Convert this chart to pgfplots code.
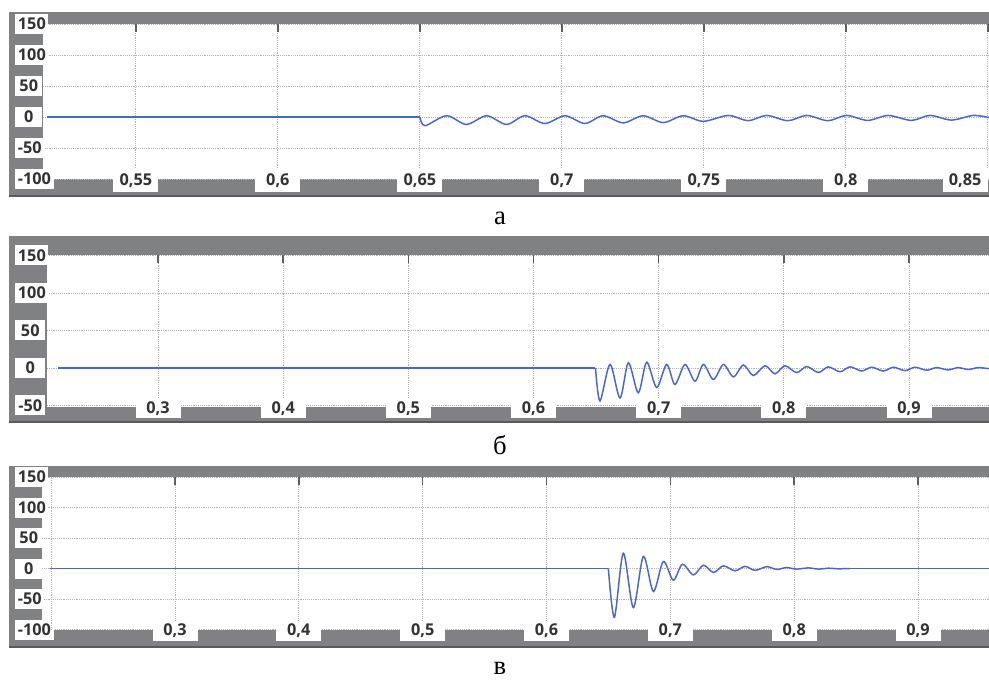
\documentclass[border=0pt]{standalone}
\usepackage{fontspec}
\usepackage{pgfplots}
\pgfplotsset{compat=1.18}
\newfontfamily\tickfont{Open Sans}
\newfontfamily\capfont{Liberation Serif}
\definecolor{framec}{RGB}{128,129,130}
\definecolor{framedark}{RGB}{88,90,92}
\definecolor{tickc}{RGB}{95,95,95}
\definecolor{gridc}{RGB}{180,180,180}
\definecolor{sig}{RGB}{72,102,205}
\definecolor{txt}{RGB}{50,50,50}
\pgfplotsset{
  panel/.style={
    scale only axis,
    anchor=south west,
    axis background/.style={fill=white},
    axis line style={draw=none},
    grid=major,
    major grid style={densely dotted, draw=gridc, line width=0.6pt},
    xtick pos=right,
    xticklabel pos=left,
    xtick align=inside,
    major tick length=6pt,
    xtick style={draw=tickc, line width=1.1pt},
    ytick style={draw=none},
    ticklabel style={font=\tickfont\bfseries\fontsize{12.2}{14}\selectfont, text=txt, fill=white, inner ysep=0pt, inner xsep=2pt},
    yticklabel style={anchor=west, minimum width=20.25pt, minimum height=15pt},
    xticklabel style={anchor=center, minimum width=33.75pt, minimum height=15pt, yshift=-1pt},
  },
  sigline/.style={draw=sig, line width=1.1pt, no marks},
}
\begin{document}
\begin{tikzpicture}
\useasboundingbox (0,0) rectangle (741.75pt,509.25pt);
% ---------- frames ----------
\fill[framec] (6.75pt,361.5pt) rectangle (741.75pt,500.25pt);
\draw[framedark, line width=1.2pt] (6.75pt,362.1pt) -- (741.75pt,362.1pt);
\fill[framec] (6.75pt,192pt) rectangle (741.75pt,332.25pt);
\draw[framedark, line width=1.2pt] (6.75pt,192.6pt) -- (741.75pt,192.6pt);
\fill[framec] (6.75pt,23.25pt) rectangle (741.75pt,159.75pt);
\draw[framedark, line width=1.2pt] (6.75pt,23.85pt) -- (741.75pt,23.85pt);

% ---------- panel a ----------
\begin{axis}[panel,
  at={(32.25pt,375pt)}, width=709.5pt, height=116.25pt,
  xmin=0.5173, xmax=0.8504, ymin=-100, ymax=150,
  xtick={0.55,0.6,0.65,0.7,0.75,0.8},
  xticklabels={{0,55},{0,6},{0,65},{0,7},{0,75},{0,8}},
  extra x ticks={0.85}, extra x tick labels={0{,}85},
  extra x tick style={xticklabel style={anchor=east}},
  ytick={-100,-50,0,50,100,150},
  yticklabels={-100,-50,0,50,100,150},
  yticklabel style={xshift=-21pt},
  xticklabel style={minimum height=18pt},
]
\addplot[sigline] coordinates {(0.5187,0) (0.6500,0)};
\addplot[sigline, smooth] coordinates {
(0.6500,0) (0.6518,-14) (0.6594,2) (0.6664,-12) (0.6735,2) (0.6805,-12)
(0.6870,2) (0.6940,-10.5) (0.7011,2) (0.7081,-10.5) (0.7145,2) (0.7216,-9.5)
(0.7286,2) (0.7357,-9) (0.7427,2) (0.7498,-7) (0.7586,2.5) (0.7656,-6)
(0.7721,2.5) (0.7796,-6) (0.7862,2.5) (0.7937,-6) (0.8002,2.5) (0.8077,-5.5)
(0.8149,2.5) (0.8231,-5.5) (0.8296,2.5) (0.8372,-5) (0.8448,2.5) (0.8504,-1)};
\end{axis}

% ---------- panel b ----------
\begin{axis}[panel,
  at={(35.25pt,204pt)}, width=706.5pt, height=113.625pt,
  xmin=0.2113, xmax=0.9639, ymin=-52, ymax=150,
  xtick={0.3,0.4,0.5,0.6,0.7,0.8,0.9},
  xticklabels={{0,3},{0,4},{0,5},{0,6},{0,7},{0,8},{0,9}},
  ytick={-50,0,50,100,150},
  yticklabels={-50,0,50,100,150},
  yticklabel style={xshift=-24pt, minimum width=22.5pt},
]
\addplot[sigline] coordinates {(0.2200,0) (0.6495,0)};
\addplot[sigline, smooth] coordinates {
(0.6495,0) (0.6531,-44) (0.6611,4.7) (0.6691,-40) (0.6758,7) (0.6837,-33)
(0.6904,7.7) (0.6984,-26) (0.7064,4.7) (0.7130,-22) (0.7210,4.7) (0.7290,-17.6)
(0.7357,4.7) (0.7437,-15.3) (0.7517,4.7) (0.7597,-11.8) (0.7677,4) (0.7756,-10)
(0.7850,3) (0.7929,-7.8) (0.8009,3) (0.8102,-6.2) (0.8182,2) (0.8276,-6)
(0.8355,1.5) (0.8449,-5) (0.8529,1.5) (0.8622,-4) (0.8702,1) (0.8795,-4)
(0.8875,1) (0.8968,-3.5) (0.9048,1) (0.9141,-3) (0.9220,0.5) (0.9313,-2.5)
(0.9393,0.5) (0.9473,-2) (0.9553,0.5) (0.9639,-1)};
\end{axis}

% ---------- panel v ----------
\begin{axis}[panel,
  at={(31.5pt,37.125pt)}, width=710.25pt, height=114.375pt,
  xmin=0.1926, xmax=0.9573, ymin=-100, ymax=150,
  xtick={0.3,0.4,0.5,0.6,0.7,0.8,0.9},
  xticklabels={{0,3},{0,4},{0,5},{0,6},{0,7},{0,8},{0,9}},
  extra x ticks={0.2}, extra x tick labels={},
  extra x tick style={major tick length=0pt, xticklabel style={fill=none, minimum width=0pt, minimum height=0pt, inner sep=0pt}},
  ytick={-100,-50,0,50,100,150},
  yticklabels={-100,-50,0,50,100,150},
  yticklabel style={xshift=-20.25pt},
]
\addplot[sigline] coordinates {(0.1991,0) (0.6499,0)};
\addplot[sigline, smooth] coordinates {
(0.6499,0) (0.6548,-80) (0.6620,25) (0.6701,-64) (0.6782,19.7) (0.6863,-37.7)
(0.6943,11.5) (0.7024,-19.2) (0.7097,7) (0.7186,-10.5) (0.7267,5.4) (0.7348,-6.6)
(0.7428,4.3) (0.7522,-3.8) (0.7603,3.5) (0.7684,-3) (0.7778,3) (0.7859,-1.5)
(0.7939,1.5) (0.8020,-1) (0.8114,1) (0.8195,-1) (0.8276,0.5) (0.8356,-0.5)
(0.8450,0)};
\addplot[sigline] coordinates {(0.8450,0) (0.9573,0)};
\end{axis}

% ---------- captions ----------
\node[font=\capfont\fontsize{20}{24}\selectfont, anchor=base, inner sep=0pt] at (375pt,340.5pt) {а};
\node[font=\capfont\fontsize{20}{24}\selectfont, anchor=base, inner sep=0pt] at (375pt,168pt) {б};
\node[font=\capfont\fontsize{20}{24}\selectfont, anchor=base, inner sep=0pt] at (375pt,3.5pt) {в};
\end{tikzpicture}
\end{document}
